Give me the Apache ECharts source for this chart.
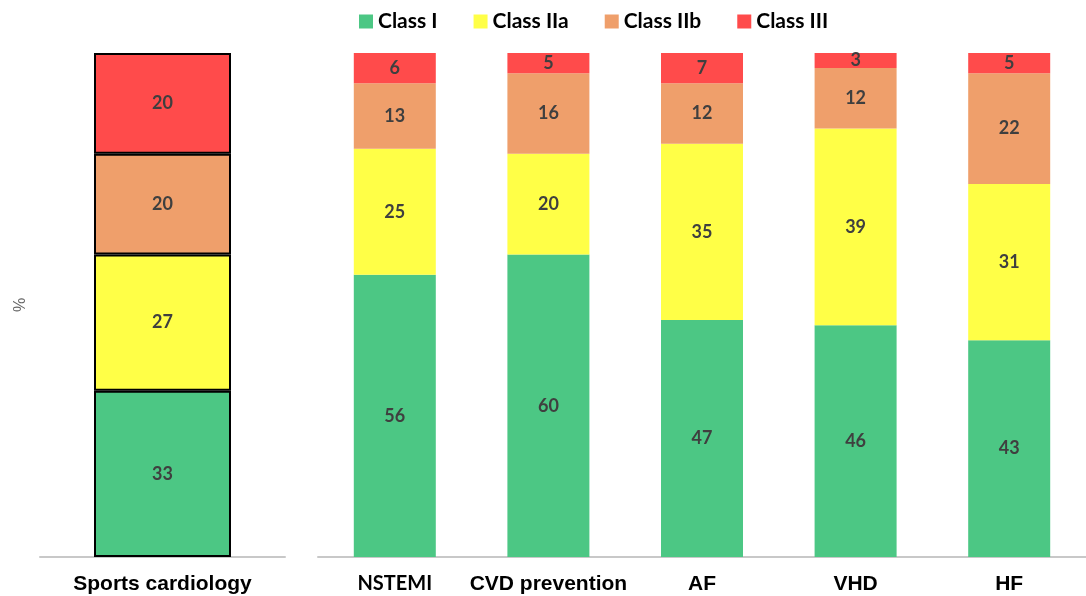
<!DOCTYPE html>
<html>
<head>
<meta charset="utf-8">
<script src="https://cdn.jsdelivr.net/npm/echarts@6/dist/echarts.min.js"></script>
<style>
  html, body { margin: 0; padding: 0; background: #fff; }
  #main { width: 1086px; height: 596px; }
</style>
</head>
<body>
<div id="main"></div>
<script>
// 数据
var leftCats = ['Sports cardiology'];
var rightCats = ['NSTEMI', 'CVD prevention', 'AF', 'VHD', 'HF'];
var seriesNames = ['Class I', 'Class IIa', 'Class IIb', 'Class III'];
var sportsVals = [33, 27, 20, 20];
var classI = [56, 60, 47, 46, 43];
var classIIa = [25, 20, 35, 39, 31];
var classIIb = [13, 16, 12, 12, 22];
var classIII = [6, 5, 7, 3, 5];

(function() {
    var colors = ['#4CC784', '#FFFF47', '#EF9F6B', '#FF4B4B'];
    var rightData = [classI, classIIa, classIIb, classIII];
    var labelStyle = {
        show: true,
        color: '#3F3F3F',
        fontSize: 18,
        fontWeight: 'bold',
        fontFamily: 'Lato'
    };
    var series = [];
    seriesNames.forEach(function(name, i) {
        // 左边单独那根柱子
        series.push({
            name: name,
            type: 'bar',
            stack: 'left',
            xAxisIndex: 0,
            yAxisIndex: 0,
            barWidth: 137,
            data: [sportsVals[i]],
            itemStyle: { color: colors[i], borderColor: '#000', borderWidth: 2 },
            label: labelStyle
        });
        // 右边五根
        series.push({
            name: name,
            type: 'bar',
            stack: 'right',
            xAxisIndex: 1,
            yAxisIndex: 1,
            barWidth: 82,
            data: rightData[i],
            itemStyle: { color: colors[i] },
            label: labelStyle
        });
    });

    var option = {
        animation: false,
        color: colors,
        legend: {
            data: seriesNames,
            left: 354,
            top: 6,
            itemWidth: 14,
            itemHeight: 14,
            itemGap: 36,
            icon: 'rect',
            itemStyle: { borderWidth: 0 },
            textStyle: { color: '#000', fontSize: 21, fontWeight: 'bold', fontFamily: 'Lato' }
        },
        grid: [
            { left: 40, width: 245, top: 53, bottom: 39 },
            { left: 318, right: -10, top: 53, bottom: 39 }
        ],
        xAxis: [{
            type: 'category',
            gridIndex: 0,
            data: leftCats,
            axisTick: { show: false },
            axisLine: { lineStyle: { color: '#C8C8C8', width: 2 } },
            axisLabel: {
                color: '#000',
                fontSize: 21,
                fontWeight: 'bold',
                fontFamily: 'Liberation Sans',
                margin: 17
            }
        }, {
            type: 'category',
            gridIndex: 1,
            data: rightCats,
            axisTick: { show: false },
            axisLine: { lineStyle: { color: '#C8C8C8', width: 2 } },
            axisLabel: {
                interval: 0,
                color: '#000',
                fontSize: 21,
                fontWeight: 'bold',
                fontFamily: 'Liberation Sans',
                margin: 17,
                formatter: function(v) {
                    return v === 'NSTEMI' ? '{c|' + v + '}' : v;
                },
                rich: {
                    c: { fontFamily: 'Lato', fontWeight: 'bold', fontSize: 20, color: '#000' }
                }
            }
        }],
        yAxis: [{
            type: 'value',
            gridIndex: 0,
            min: 0,
            max: 100,
            name: '%',
            nameLocation: 'middle',
            nameRotate: 90,
            nameGap: 11,
            nameTextStyle: { color: '#666', fontSize: 16 },
            axisLine: { show: false },
            axisTick: { show: false },
            axisLabel: { show: false },
            splitLine: { show: false }
        }, {
            type: 'value',
            gridIndex: 1,
            min: 0,
            max: 100,
            axisLine: { show: false },
            axisTick: { show: false },
            axisLabel: { show: false },
            splitLine: { show: false }
        }],
        series: series
    };
    var myechart = echarts.init(document.getElementById('main'));
    myechart.setOption(option);
})();
</script>
</body>
</html>
